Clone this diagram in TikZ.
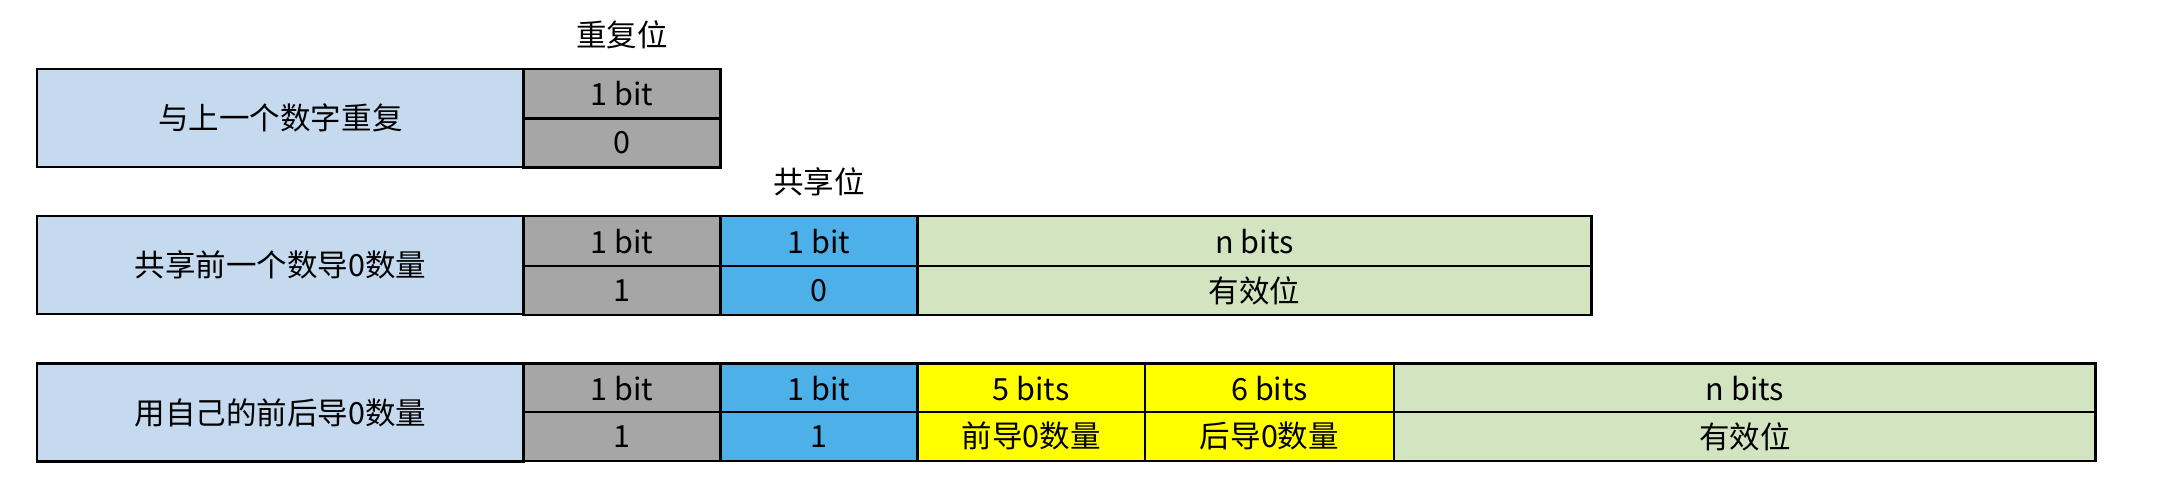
\documentclass[tikz,border=0pt]{standalone}
\usepackage{fontspec}
\setmainfont{Noto Sans CJK SC}
\usetikzlibrary{positioning}
\definecolor{namebg}{HTML}{C5D9EF}
\definecolor{flagbg}{HTML}{A6A6A6}
\definecolor{sharebg}{HTML}{4DB0E8}
\definecolor{databg}{HTML}{D2E5C0}
\definecolor{lenbg}{HTML}{FFFF00}
\begin{document}
\begin{tikzpicture}[
  x=0.01cm, y=-0.01cm,
  cell/.style={draw, line width=0.5pt, inner sep=0pt, outer sep=0pt,
    anchor=north west, font=\fontsize{6.3}{7}\selectfont},
  namebox/.style={cell, fill=namebg, minimum height=0.71cm},
  top/.style={cell, minimum height=0.36cm},
  bot/.style={cell, minimum height=0.355cm},
  head/.style={font=\fontsize{6.3}{7}\selectfont, inner sep=0pt}
]
\useasboundingbox (0,0) rectangle (1568,360);

% row 1: repeat previous value
\node[namebox, minimum width=3.53cm] (rep) at (27,50) {与上一个数字重复};
\node[top, fill=flagbg, minimum width=1.43cm] (repT) at (380,50) {1 bit};
\node[bot, fill=flagbg, minimum width=1.43cm] (repB) at (380,86) {0};
\node[head, above=4pt of repT] (repH) {重复位};

% row 2: share leading zeros of previous value
\node[namebox, minimum width=3.53cm] (shr) at (27,157) {共享前一个数导0数量};
\node[top, fill=flagbg, minimum width=1.43cm] (shrT) at (380,157) {1 bit};
\node[bot, fill=flagbg, minimum width=1.43cm] (shrB) at (380,193) {1};
\node[top, fill=sharebg, minimum width=1.43cm] (shrST) at (523,157) {1 bit};
\node[bot, fill=sharebg, minimum width=1.43cm] (shrSB) at (523,193) {0};
\node[top, fill=databg, minimum width=4.89cm] (shrDT) at (666,157) {n bits};
\node[bot, fill=databg, minimum width=4.89cm] (shrDB) at (666,193) {有效位};
\node[head, above=4pt of shrST] (shrH) {共享位};

% row 3: own leading and trailing zeros
\node[namebox, minimum width=3.53cm] (own) at (27,264) {用自己的前后导0数量};
\node[top, fill=flagbg, minimum width=1.43cm] (ownT) at (380,264) {1 bit};
\node[bot, fill=flagbg, minimum width=1.43cm] (ownB) at (380,299) {1};
\node[top, fill=sharebg, minimum width=1.43cm] (ownST) at (523,264) {1 bit};
\node[bot, fill=sharebg, minimum width=1.43cm] (ownSB) at (523,299) {1};
\node[top, fill=lenbg, minimum width=1.65cm] (ownLT) at (666,264) {5 bits};
\node[bot, fill=lenbg, minimum width=1.65cm] (ownLB) at (666,299) {前导0数量};
\node[top, fill=lenbg, minimum width=1.81cm] (ownRT) at (831,264) {6 bits};
\node[bot, fill=lenbg, minimum width=1.81cm] (ownRB) at (831,299) {后导0数量};
\node[top, fill=databg, minimum width=5.09cm] (ownDT) at (1012,264) {n bits};
\node[bot, fill=databg, minimum width=5.09cm] (ownDB) at (1012,299) {有效位};
\end{tikzpicture}
\end{document}
